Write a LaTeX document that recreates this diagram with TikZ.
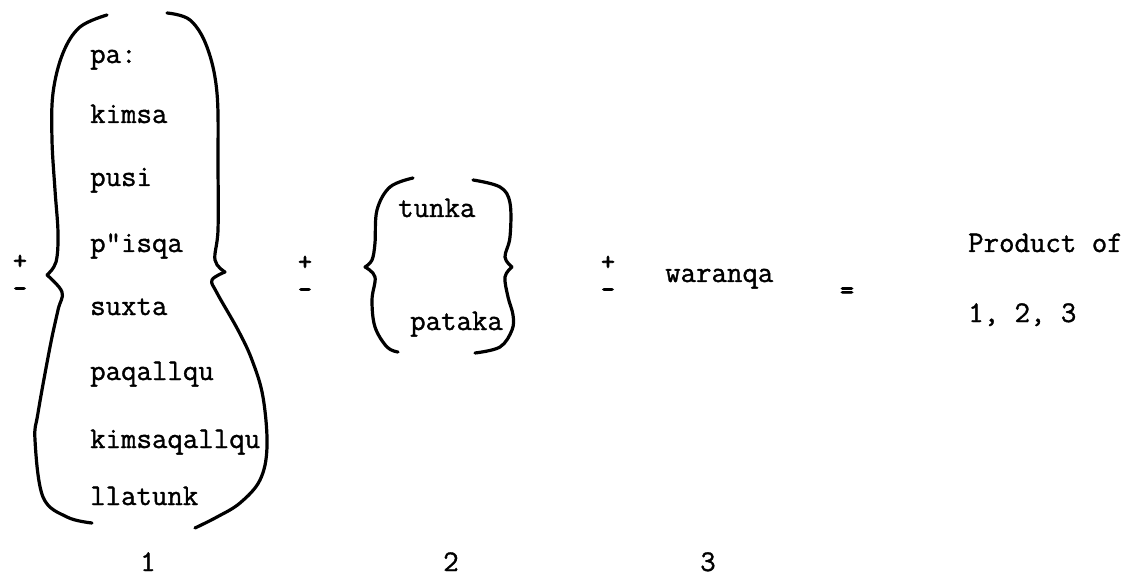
\documentclass[tikz,border=0pt]{standalone}
\usepackage{fontspec}
\newfontfamily\typew{Latin Modern Mono}[FakeBold=1.2]
\newfontfamily\typesign{Latin Modern Mono}[FakeBold=3.5]
\begin{document}
\begin{tikzpicture}[x=1pt,y=-1pt,
  word/.style={anchor=base west,inner sep=0pt,font=\fontsize{30}{30}\typew},
  sign/.style={anchor=center,inner sep=0pt,font=\fontsize{26}{26}\typesign},
  brace/.style={line width=3.2pt,line cap=round,line join=round}]
\useasboundingbox (0,0) rectangle (1132,577);
% group 1 words
\node[word] (w1) at (90,63) {pa:};
\node[word] (w2) at (90,123) {kimsa};
\node[word] (w3) at (90,186) {pusi};
\node[word] (w4) at (90,252) {p\symbol{34}isqa};
\node[word] (w5) at (90,315) {suxta};
\node[word] (w6) at (90,380) {paqallqu};
\node[word] (w7) at (90,448) {kimsaqallqu};
\node[word] (w8) at (90,505) {llatunk};
\node[word] (n1) at (140,571) {1};
% signs
\node[sign] (p1) at (20,262) {+};
\node[sign] (m1) at (20,292) {-};
\node[sign] (p2) at (305,263) {+};
\node[sign] (m2) at (305,293) {-};
\node[sign] (p3) at (608,263) {+};
\node[sign] (m3) at (608,293) {-};
% group 2
\node[word] (t1) at (398,217) {tunka};
\node[word] (t2) at (410,330) {pataka};
\node[word] (n2) at (443,571) {2};
% group 3
\node[word] (wa) at (665,282) {waranqa};
\node[word] (n3) at (700,571) {3};
\node[sign] (eq) at (847,293) {=};
\node[word] (pr) at (968,252) {Product of};
\node[word] (pn) at (968,322) {1, 2, 3};
% braces group 1
\draw[brace] plot[smooth,tension=0.6] coordinates {(107,15) (80,27) (63,53) (53,93) (52,140) (55,190) (58,233) (56,262) (47,275)};
\draw[brace] plot[smooth,tension=0.6] coordinates {(47,275) (62,292) (58,310) (50,347) (38,413) (35,440) (43,497) (67,517) (92,523)};
\draw[brace] plot[smooth,tension=0.6] coordinates {(167,13) (190,20) (207,47) (217,93) (218,167) (218,230) (215,260) (225,272)};
\draw[brace] plot[smooth,tension=0.6] coordinates {(225,272) (212,280) (217,293) (238,330) (252,360) (263,397) (267,447) (260,480) (240,503) (217,517) (195,528)};
% braces group 2
\draw[brace] plot[smooth,tension=0.6] coordinates {(413,178) (390,187) (377,210) (375,243) (372,260) (365,267)};
\draw[brace] plot[smooth,tension=0.6] coordinates {(365,267) (375,277) (372,300) (375,327) (387,347) (398,352)};
\draw[brace] plot[smooth,tension=0.6] coordinates {(473,180) (500,187) (510,203) (510,237) (505,257) (512,267)};
\draw[brace] plot[smooth,tension=0.6] coordinates {(512,267) (505,277) (508,297) (513,315) (512,330) (500,347) (475,353)};
\end{tikzpicture}
\end{document}
